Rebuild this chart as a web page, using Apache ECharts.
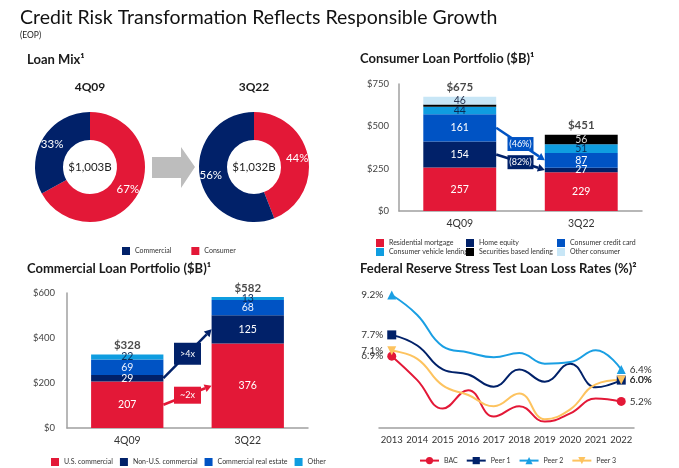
<!DOCTYPE html>
<html><head><meta charset="utf-8">
<script src="https://cdn.jsdelivr.net/npm/echarts@6/dist/echarts.min.js"></script>
<style>html,body{margin:0;padding:0;background:#fff}#c{width:679px;height:468px}</style>
</head><body><div id="c"></div>
<script>
// ---------- DATA ----------
// Loan mix (%)
const mixPeriods = ['4Q09', '3Q22'];
const mixTotals = ['$1,003B', '$1,032B'];
const mixConsumer = [67, 44];
const mixCommercial = [33, 56];

// Consumer loan portfolio ($B)
const periods = ['4Q09', '3Q22'];
const residential = [257, 229];
const homeEquity = [154, 27];
const creditCard = [161, 87];
const vehicle = [44, 51];
const securities = [13, 56];
const otherConsumer = [46, 1];
const consumerTotals = [675, 451];
const consumerChanges = ['(46%)', '(82%)'];

// Commercial loan portfolio ($B)
const usComm = [207, 376];
const nonUsComm = [29, 125];
const creComm = [69, 68];
const otherComm = [22, 13];
const commercialTotals = [328, 582];
const commercialChanges = ['>4x', '~2x'];

// Fed stress test loan loss rates (%)
const years = ['2013','2014','2015','2016','2017','2018','2019','2020','2021','2022'];
const bac   = [6.9, 6.0, 4.93, 5.62, 4.63, 5.02, 4.44, 4.75, 5.31, 5.2];
const peer1 = [7.7, 7.3, 6.40, 6.21, 5.75, 6.40, 5.94, 6.62, 5.73, 6.0];
const peer2 = [9.2, 8.45, 7.27, 7.04, 6.86, 7.02, 6.62, 6.68, 7.12, 6.4];
const peer3 = [7.1, 6.8, 5.8, 5.44, 5.02, 5.50, 4.53, 4.90, 5.84, 6.0];

// ---------- STYLE ----------
const F = 'Lato, "Open Sans", sans-serif';
const RED = '#e31837', NAVY = '#012169', BLUE = '#0053c4', CYAN = '#0f9de0',
      LIGHT = '#c8e6f6', BLACK = '#000000', P2 = '#1a9fe3', P3 = '#fdc35f';
const TXT = '#1a1a1a';

const chart = echarts.init(document.getElementById('c'), null, {renderer: 'canvas'});

function barSeries(name, data, color, xi, stack, labelColor, minShow) {
  return {
    type: 'bar', name, data, stack, xAxisIndex: xi, yAxisIndex: xi,
    barWidth: '60%', itemStyle: {color}, silent: true,
    label: {show: true, position: 'inside', color: labelColor, fontFamily: F, fontSize: 10.5,
      formatter: p => (p.value >= minShow ? String(p.value) : '')},
    emphasis: {disabled: true}
  };
}
function totalSeries(data, xi) {
  return {
    type: 'scatter', data, xAxisIndex: xi, yAxisIndex: xi, symbolSize: 0, silent: true,
    label: {show: true, position: 'top', distance: 3, formatter: p => '$' + p.value,
      fontFamily: F, fontWeight: 'bold', fontSize: 11.5, color: TXT}
  };
}
function lineSeries(name, data, color, symbol, rotate) {
  const last = data.length - 1;
  return {
    type: 'line', name, xAxisIndex: 2, yAxisIndex: 2, smooth: 0.45, color,
    symbol, symbolSize: 9, symbolRotate: rotate, showAllSymbol: true,
    lineStyle: {width: 2, color}, itemStyle: {color},
    data: data.map((v, i) => ({
      value: v,
      symbol: (i === 0 || i === last) ? symbol : 'none',
      label: {show: i === 0 || i === last, position: i === 0 ? 'left' : 'right', distance: 4,
        formatter: p => p.value.toFixed(1) + '%', color: '#333', fontFamily: F, fontSize: 10}
    })),
    emphasis: {disabled: true}, silent: true
  };
}
function pieSeries(idx, cx) {
  return {
    type: 'pie', center: [cx, 167], radius: [27, 55], startAngle: 90, clockwise: true,
    avoidLabelOverlap: false, silent: true, emphasis: {disabled: true},
    label: {show: true, position: 'inside', formatter: '{c}%', color: '#fff', fontFamily: F, fontSize: 11.5},
    labelLine: {show: false},
    data: [
      {name: 'Consumer', value: mixConsumer[idx], itemStyle: {color: RED}},
      {name: 'Commercial', value: mixCommercial[idx], itemStyle: {color: NAVY}}
    ]
  };
}
const legText = {fontFamily: F, fontSize: 7, color: '#333'};
const catAxis = (gi, data, size) => ({
  type: 'category', gridIndex: gi, data, axisTick: {show: false},
  axisLine: {lineStyle: {color: '#a0a0a0', width: 1.5}},
  axisLabel: {color: '#333', fontFamily: F, fontSize: size, margin: 7, interval: 0}
});
const valAxis = (gi, max, interval, margin) => ({
  type: 'value', gridIndex: gi, min: 0, max, interval,
  axisLine: {show: true, lineStyle: {color: '#a0a0a0', width: 1.5}}, axisTick: {show: false},
  splitLine: {show: false},
  axisLabel: {color: '#444', fontFamily: F, fontSize: 9.5, margin, formatter: v => '$' + v}
});

const option = {
  animation: false,
  grid: [
    {left: 399, top: 84, width: 243, height: 127},
    {left: 67, top: 293, width: 241, height: 135},
    {left: 379, top: 295, width: 255, height: 133}
  ],
  xAxis: [catAxis(0, periods, 10.5), catAxis(1, periods, 10.5),
    Object.assign(catAxis(2, years, 9.5), {boundaryGap: true})],
  yAxis: [valAxis(0, 750, 250, 10), valAxis(1, 600, 200, 12),
    {type: 'value', gridIndex: 2, min: 4.2, max: 9.2, show: false}],
  legend: [
    {data: ['Commercial', 'Consumer'], left: 117, top: 242, itemWidth: 8, itemHeight: 8, itemGap: 20,
      icon: 'rect', textStyle: legText, selectedMode: false},
    {data: ['Residential mortgage', 'Consumer vehicle lending'], orient: 'vertical', left: 371, top: 234,
      itemWidth: 8, itemHeight: 8, itemGap: 1, icon: 'rect', textStyle: legText, selectedMode: false},
    {data: ['Home equity', 'Securities based lending'], orient: 'vertical', left: 461, top: 234,
      itemWidth: 8, itemHeight: 8, itemGap: 1, icon: 'rect', textStyle: legText, selectedMode: false},
    {data: ['Consumer credit card', 'Other consumer'], orient: 'vertical', left: 552, top: 234,
      itemWidth: 8, itemHeight: 8, itemGap: 1, icon: 'rect', textStyle: legText, selectedMode: false},
    {data: ['U.S. commercial', 'Non-U.S. commercial', 'Commercial real estate', 'Other'], left: 46, top: 453,
      itemWidth: 8, itemHeight: 8, itemGap: 7, icon: 'rect', textStyle: legText, selectedMode: false},
    {data: ['BAC', 'Peer 1', 'Peer 2', 'Peer 3'], left: 414, top: 452,
      itemWidth: 19, itemHeight: 9, itemGap: 8, textStyle: legText, selectedMode: false}
  ],
  series: [
    pieSeries(0, 90), pieSeries(1, 254),
    barSeries('Residential mortgage', residential, RED, 0, 'c', '#fff', 10),
    barSeries('Home equity', homeEquity, NAVY, 0, 'c', '#fff', 10),
    barSeries('Consumer credit card', creditCard, BLUE, 0, 'c', '#fff', 10),
    barSeries('Consumer vehicle lending', vehicle, CYAN, 0, 'c', '#0b2a55', 10),
    barSeries('Securities based lending', securities, BLACK, 0, 'c', '#dddddd', 20),
    barSeries('Other consumer', otherConsumer, LIGHT, 0, 'c', '#2a3550', 10),
    totalSeries(consumerTotals, 0),
    barSeries('U.S. commercial', usComm, RED, 1, 'm', '#fff', 1),
    barSeries('Non-U.S. commercial', nonUsComm, NAVY, 1, 'm', '#fff', 1),
    barSeries('Commercial real estate', creComm, BLUE, 1, 'm', '#e8f0ff', 1),
    barSeries('Other', otherComm, CYAN, 1, 'm', '#0b2a55', 1),
    totalSeries(commercialTotals, 1),
    lineSeries('BAC', bac, RED, 'circle', 0),
    lineSeries('Peer 1', peer1, NAVY, 'rect', 0),
    lineSeries('Peer 2', peer2, P2, 'triangle', 0),
    lineSeries('Peer 3', peer3, P3, 'triangle', 180)
  ]
};
chart.setOption(option);

// ---------- ANNOTATIONS ----------
function txt(x, y, text, size, weight, align, color) {
  return {type: 'text', x, y, silent: true, style: {text, fontFamily: F, fontSize: size,
    fontWeight: weight || 'normal', fill: color || TXT, align: align || 'left', verticalAlign: 'middle'}};
}
function arrow(p0, p1, color, label, bw, bh) {
  const dx = p1[0] - p0[0], dy = p1[1] - p0[1], L = Math.hypot(dx, dy);
  const ux = dx / L, uy = dy / L, s = 7;
  const bx = p1[0] - ux * s, by = p1[1] - uy * s;
  const mx = (p0[0] + p1[0]) / 2, my = (p0[1] + p1[1]) / 2;
  return [
    {type: 'line', silent: true, shape: {x1: p0[0], y1: p0[1], x2: bx, y2: by},
      style: {stroke: color, lineWidth: 2.5}},
    {type: 'polygon', silent: true, shape: {points: [[p1[0], p1[1]],
      [bx - uy * 4, by + ux * 4], [bx + uy * 4, by - ux * 4]]}, style: {fill: color}},
    {type: 'rect', silent: true, shape: {x: mx - bw / 2, y: my - bh / 2, width: bw, height: bh},
      style: {fill: color}},
    txt(mx, my, label, 9, 'normal', 'center', '#fff')
  ];
}
function cum(arrs, k, i) { let s = 0; for (let j = 0; j < k; j++) s += arrs[j][i]; return s; }
function segMid(arrs, k, i) { return cum(arrs, k, i) + arrs[k][i] / 2; }
function px(gi, i, v) { return chart.convertToPixel({gridIndex: gi}, [i, v]); }

const consArrs = [residential, homeEquity, creditCard, vehicle, securities, otherConsumer];
const commArrs = [usComm, nonUsComm, creComm, otherComm];
function link(gi, arrs, k, color, label, bw, bh) {
  const a = px(gi, 0, segMid(arrs, k, 0)), b = px(gi, 1, segMid(arrs, k, 1));
  const hb = (b[0] - a[0]) * 0.3;
  return arrow([a[0] + hb, a[1]], [b[0] - hb, b[1]], color, label, bw, bh);
}

const g = [
  txt(20, 18, 'Credit Risk Transformation Reflects Responsible Growth', 19.5, 'normal', 'left', '#111'),
  txt(20, 35, '(EOP)', 8.5, 'normal', 'left', '#222'),
  txt(27, 60, 'Loan Mix¹', 13, 'bold'),
  txt(360, 59, 'Consumer Loan Portfolio ($B)¹', 13, 'bold'),
  txt(27, 269, 'Commercial Loan Portfolio ($B)¹', 13, 'bold'),
  txt(360, 269, 'Federal Reserve Stress Test Loan Loss Rates (%)²', 13, 'bold'),
  txt(90, 87, mixPeriods[0], 12, 'bold', 'center'),
  txt(254, 87, mixPeriods[1], 12, 'bold', 'center'),
  txt(90, 167, mixTotals[0], 11.5, 'normal', 'center', '#222'),
  txt(254, 167, mixTotals[1], 11.5, 'normal', 'center', '#222'),
  {type: 'polygon', silent: true, shape: {points: [[152, 157], [181, 157], [181, 147], [195, 167],
    [181, 188], [181, 178], [152, 178]]}, style: {fill: '#bdbdbd'}}
].concat(
  link(0, consArrs, 2, BLUE, consumerChanges[0], 26, 14),
  link(0, consArrs, 1, NAVY, consumerChanges[1], 26, 14),
  link(1, commArrs, 1, NAVY, commercialChanges[0], 27, 22),
  link(1, commArrs, 0, RED, commercialChanges[1], 27, 17)
);
chart.setOption({graphic: g});
</script></body></html>
